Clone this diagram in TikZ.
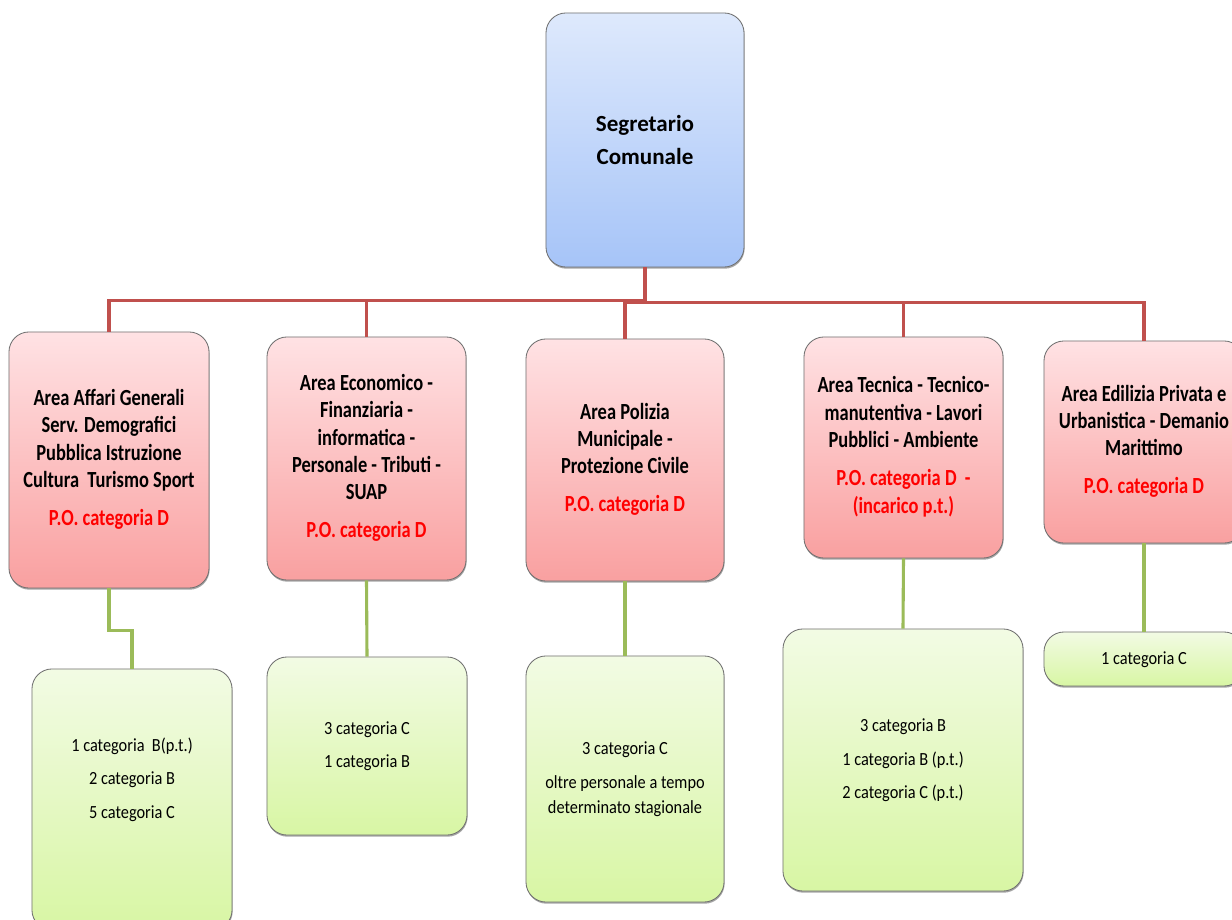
\documentclass[tikz,border=0pt]{standalone}
\usepackage{fontspec}
\setmainfont{Carlito}
\usepackage{graphicx}
\usetikzlibrary{shadows}
\newcommand{\squeeze}[2]{\scalebox{#1}[1]{\begin{tabular}{@{}c@{}}#2\end{tabular}}}
\definecolor{busred}{HTML}{C0504D}
\definecolor{stemgreen}{HTML}{9BBB59}
\definecolor{boxline}{HTML}{707070}
\definecolor{headtop}{HTML}{DEE9FC}
\definecolor{headbot}{HTML}{A6C4F8}
\definecolor{areatop}{HTML}{FFE2E4}
\definecolor{areabot}{HTML}{F9A0A0}
\definecolor{stafftop}{HTML}{F2FBE4}
\definecolor{staffbot}{HTML}{D8F6A4}
\begin{document}
\begin{tikzpicture}[x=0.025cm, y=0.025cm,
          box/.style = {draw=boxline, line width=0.6pt, rounded corners=0.5cm, inner sep=0pt, align=center,
            drop shadow={shadow xshift=0.4pt, shadow yshift=-1.2pt, fill=black, opacity=0.35}},
          head/.style = {box, top color=headtop, bottom color=headbot, font=\fontsize{16.4}{24}\selectfont\bfseries},
          area/.style = {box, top color=areatop, bottom color=areabot, font=\fontsize{16.4}{19.5}\selectfont\bfseries},
          staff/.style = {box, top color=stafftop, bottom color=staffbot, font=\fontsize{13.2}{17.8}\selectfont},
          redline/.style = {busred, line width=2.6pt},
          greenline/.style = {stemgreen, line width=2.2pt}]
          \useasboundingbox (0,0) rectangle (1232,-920);
          \fill[white] (0,0) rectangle (1232,-920);
          % top
          \node[head, minimum width=4.95cm, minimum height=6.35cm] (seg) at (645,-140) {Segretario\\Comunale};
          % areas
          \node[area, minimum width=5cm, minimum height=6.4cm] (a1) at (109,-460)
            {\squeeze{0.8}{Area Affari Generali\\ Serv. Demografici\\ Pubblica Istruzione\\ Cultura~~Turismo Sport\\[7.5pt] \color{red}P.O. categoria D}};
          \node[area, minimum width=4.975cm, minimum height=6.075cm] (a2) at (366.5,-458.5)
            {\squeeze{0.8}{Area Economico -\\ Finanziaria -\\ informatica -\\ Personale - Tributi -\\ SUAP\\[7.5pt] \color{red}P.O. categoria D}};
          \node[area, minimum width=4.95cm, minimum height=6.05cm] (a3) at (625,-460)
            {\squeeze{0.8}{Area Polizia\\ Municipale -\\ Protezione Civile\\[7.5pt] \color{red}P.O. categoria D}};
          \node[area, minimum width=4.975cm, minimum height=5.525cm] (a4) at (903.5,-447.5)
            {\squeeze{0.8}{Area Tecnica - Tecnico-\\ manutentiva - Lavori\\ Pubblici - Ambiente\\[7.5pt] \color{red}P.O. categoria D~~-\\ \color{red}(incarico p.t.)}};
          \node[area, minimum width=5cm, minimum height=5.05cm] (a5) at (1144,-442)
            {\squeeze{0.8}{Area Edilizia Privata e\\ Urbanistica - Demanio\\ Marittimo\\[7.5pt] \color{red}P.O. categoria D}};
          % staff
          \node[staff, minimum width=5cm, minimum height=6.525cm] (s1) at (132,-799.5)
            {\squeeze{0.88}{1 categoria~~B(p.t.)\\[6pt] 2 categoria B\\[6pt] 5 categoria C\\[28pt]}};
          \node[staff, minimum width=5cm, minimum height=4.45cm] (s2) at (367,-746)
            {\squeeze{0.88}{3 categoria C\\[6pt] 1 categoria B}};
          \node[staff, minimum width=4.95cm, minimum height=6.15cm] (s3) at (625,-779)
            {\squeeze{0.88}{3 categoria C\\[6pt] oltre personale a tempo\\ determinato stagionale}};
          \node[staff, minimum width=6cm, minimum height=6.55cm] (s4) at (903,-760)
            {\squeeze{0.88}{3 categoria B\\[6pt] 1 categoria B (p.t.)\\[6pt] 2 categoria C (p.t.)}};
          \node[staff, minimum width=5cm, minimum height=1.35cm] (s5) at (1144,-659)
            {\squeeze{0.88}{1 categoria C}};
          % bus
          \draw[redline] (a1.north) -- ++(0,31) -| (seg.south);
          \draw[redline] (a2.north) -- ++(0,36) -| (seg.south);
          \draw[redline] (a3.north) -- ++(0,36) -| (seg.south);
          \draw[redline] (a4.north) -- ++(0,34) -| (seg.south);
          \draw[redline] (a5.north) -- ++(0,38) -| (seg.south);
          % stems
          \draw[greenline] (a1.south) -- ++(0,-42) -| (s1.north);
          \draw[greenline] (a2.south) -- (s2.north);
          \draw[greenline] (a3.south) -- (s3.north);
          \draw[greenline] (a4.south) -- (s4.north);
          \draw[greenline] (a5.south) -- (s5.north);
\end{tikzpicture}
\end{document}
